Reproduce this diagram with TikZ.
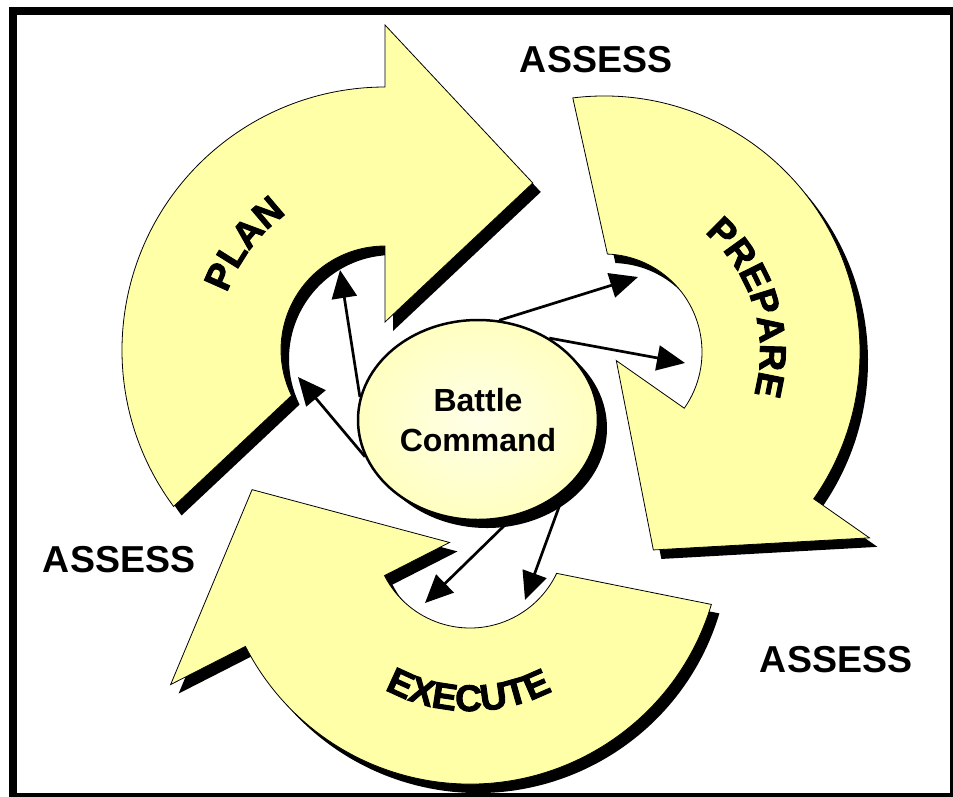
\documentclass[tikz,border=0pt]{standalone}
\usepackage{fontspec}
\setmainfont{Liberation Sans}
\newfontfamily\bandfam{Liberation Sans Bold}[FakeBold=2.5]
\usetikzlibrary{arrows.meta,shapes.geometric,shadows,decorations.text}
\definecolor{bandyellow}{RGB}{255,255,168}
\definecolor{bcyellow}{RGB}{255,255,192}
\definecolor{bclight}{RGB}{255,255,232}
\newcommand{\bandfont}{\fontsize{37}{40}\bandfam}
\tikzset{
  band/.style={fill=bandyellow, draw=black, line width=0.8pt,
    drop shadow={shadow xshift=8pt, shadow yshift=-9pt, fill=black, opacity=1}},
  bcnode/.style={ellipse, draw, line width=2.5pt, minimum width=240pt, minimum height=200pt,
    inner sep=0pt, align=center, font=\fontsize{32}{40}\selectfont\bfseries,
    shade, inner color=bclight, outer color=bcyellow,
    drop shadow={shadow xshift=9pt, shadow yshift=-8pt, fill=black, opacity=1}},
  assess/.style={font=\fontsize{37.5}{45}\selectfont\bfseries, inner sep=0pt, anchor=base},
  link/.style={line width=2.7pt, -{Triangle[length=28pt,width=25pt]}}
}
\begin{document}
\begin{tikzpicture}[x=1pt, y=-1pt]
		\useasboundingbox (0,0) rectangle (953,796);
		% Rahmen
		\draw[line width=8pt] (13,11) rectangle (954,797);
		% die drei Pfeile: Mitte / Radien / Winkel Schwanz, Kopf / Spitzen
		\foreach \cx/\cy/\R/\r/\a/\b/\h/\bo/\bi/\ta/\tr in {385/350/263/104/143.5/154/270/325/28/311.5/223,
			604/352/256/98/-97/-88/35/324/15/76/204,
			470/532/252/96/16.7/25.5/153/336/23/191/222}
		\draw[band, shift={(\cx,\cy)}] (\a:\R) arc[start angle=\a, end angle=\h, radius=\R]
			-- (\h:\bo) -- (\ta:\tr) -- (\h:\bi) -- (\h:\r)
			arc[start angle=\h, end angle=\b, radius=\r] -- cycle;
		% Beschriftung auf den Pfeilen
		\path[shift={(385,350)}, decorate, decoration={text along path, text={|\bandfont|PLAN}, text align=center}]
			(190:168) arc[start angle=190, end angle=244, radius=168];
		\path[shift={(604,352)}, decorate, decoration={text along path, text={|\bandfont|PREPARE}, text align=center}]
			(-60:156) arc[start angle=-60, end angle=26, radius=156];
		\path[shift={(470,532)}, decorate, decoration={text along path, text={|\bandfont|EXECUTE}, text align=center}]
			(130:179) arc[start angle=130, end angle=51, radius=179];
		% Mitte
		\node[bcnode] (bc) at (478,420) {Battle\\Command};
		% ASSESS
		\node[assess] (as1) at (596,72) {ASSESS};
		\node[assess] (as2) at (119,572) {ASSESS};
		\node[assess] (as3) at (836,672) {ASSESS};
		% Pfeile aus der Mitte
		\coordinate (pl1) at (340,270);
		\coordinate (pl2) at (298,377);
		\coordinate (pr1) at (638,277);
		\coordinate (pr2) at (685,363);
		\coordinate (ex1) at (425,603);
		\coordinate (ex2) at (525,600);
		\foreach \s/\t in {169/pl1,198/pl2,78/pr1,49/pr2,290/ex1,321/ex2}
		\draw[link] (bc.\s) -- (\t);
	\end{tikzpicture}
\end{document}
